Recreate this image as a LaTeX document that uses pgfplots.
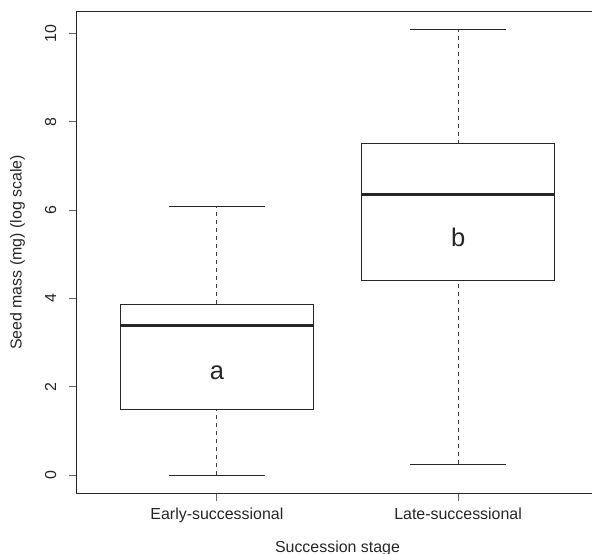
\documentclass[border=0pt]{standalone}
\usepackage{fontspec}
\setmainfont{Liberation Sans}
\usepackage{pgfplots}
\pgfplotsset{compat=1.18}
\usepgfplotslibrary{statistics}
\pgfplotsset{
  boxplot/draw/lower whisker/.code={
    \draw[black!75, dash pattern=on 3bp off 3bp, line width=0.75bp]
      (boxplot cs:\pgfplotsboxplotvalue{lower whisker}) -- (boxplot cs:\pgfplotsboxplotvalue{lower quartile});
    \draw[black!85, line width=0.75bp]
      (boxplot whisker cs:\pgfplotsboxplotvalue{lower whisker},0) -- (boxplot whisker cs:\pgfplotsboxplotvalue{lower whisker},1);
  },
  boxplot/draw/upper whisker/.code={
    \draw[black!75, dash pattern=on 3bp off 3bp, line width=0.75bp]
      (boxplot cs:\pgfplotsboxplotvalue{upper quartile}) -- (boxplot cs:\pgfplotsboxplotvalue{upper whisker});
    \draw[black!85, line width=0.75bp]
      (boxplot whisker cs:\pgfplotsboxplotvalue{upper whisker},0) -- (boxplot whisker cs:\pgfplotsboxplotvalue{upper whisker},1);
  },
  boxplot/every median/.style={line width=2.25bp, black!85},
  boxplot/every box/.style={line width=0.75bp, black!85},
}
\begin{document}
\fontsize{12}{14}\selectfont
\begin{tikzpicture}
\begin{axis}[
  name=ax,
  scale only axis,
  width=390.75bp, height=360.75bp,
  xmin=0.42, xmax=2.58, ymin=-0.403, ymax=10.48,
  xtick={1,2}, xticklabels={Early-successional,Late-successional},
  ytick={0,2,4,6,8,10},
  tick pos=left, tick align=outside,
  major tick length=6bp,
  axis line style={line width=0.75bp, black!85},
  every tick/.style={line width=0.75bp, black!60},
  tick label style={font=\fontsize{12}{14}\selectfont, text=black!85, inner sep=0pt},
  /pgf/number format/assume math mode=true,
  yticklabel style={rotate=90, anchor=south},
  xticklabel style={anchor=north},
  yticklabel shift=9.4bp,
  xticklabel shift=5.25bp,
  xlabel={Succession stage},
  ylabel={Seed mass (mg) (log scale)},
  every axis x label/.style={at={([yshift=-44.6bp]axis description cs:0.5,0)}, anchor=base, inner sep=0pt, text=black!85, font=\fontsize{12}{14}\selectfont},
  every axis y label/.style={at={([xshift=-41.6bp]axis description cs:0,0.5)}, rotate=90, anchor=base, inner sep=0pt, text=black!85, font=\fontsize{12}{14}\selectfont},
  clip=false,
  boxplot/draw direction=y,
]
\addplot[boxplot prepared={draw position=1, lower whisker=0.0, lower quartile=1.48, median=3.39, upper quartile=3.87, upper whisker=6.09, box extend=0.8, whisker extend=0.4}] coordinates {};
\addplot[boxplot prepared={draw position=2, lower whisker=0.25, lower quartile=4.41, median=6.34, upper quartile=7.50, upper whisker=10.08, box extend=0.8, whisker extend=0.4}] coordinates {};
\node[font=\fontsize{19.2}{22}\selectfont, text=black!85, inner sep=0pt, anchor=center] at (axis cs:1,2.31) {a};
\node[font=\fontsize{19.2}{22}\selectfont, text=black!85, inner sep=0pt, anchor=center] at (axis cs:2,5.38) {b};
\end{axis}
\pgfresetboundingbox
\useasboundingbox ([shift={(-57.75bp,-45.75bp)}]ax.south west) rectangle ([shift={(386.25bp,9bp)}]ax.north west);
\end{tikzpicture}
\end{document}
